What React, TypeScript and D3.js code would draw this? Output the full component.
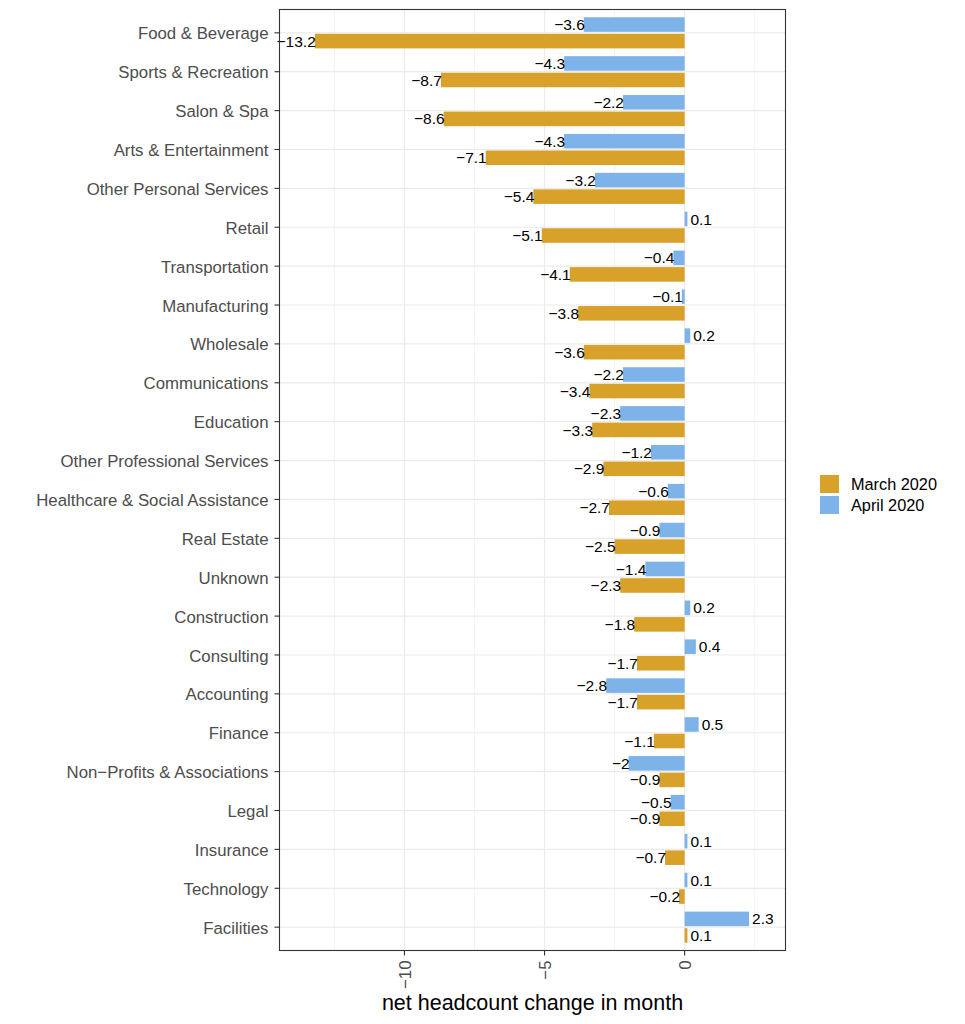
import * as d3 from 'd3';
import { useEffect } from 'react';

const categories = [
  'Food & Beverage',
  'Sports & Recreation',
  'Salon & Spa',
  'Arts & Entertainment',
  'Other Personal Services',
  'Retail',
  'Transportation',
  'Manufacturing',
  'Wholesale',
  'Communications',
  'Education',
  'Other Professional Services',
  'Healthcare & Social Assistance',
  'Real Estate',
  'Unknown',
  'Construction',
  'Consulting',
  'Accounting',
  'Finance',
  'Non\u2212Profits & Associations',
  'Legal',
  'Insurance',
  'Technology',
  'Facilities',
];

const march2020 = [
  -13.2, -8.7, -8.6, -7.1, -5.4, -5.1, -4.1, -3.8, -3.6, -3.4, -3.3, -2.9,
  -2.7, -2.5, -2.3, -1.8, -1.7, -1.7, -1.1, -0.9, -0.9, -0.7, -0.2, 0.1,
];

const april2020 = [
  -3.6, -4.3, -2.2, -4.3, -3.2, 0.1, -0.4, -0.1, 0.2, -2.2, -2.3, -1.2, -0.6,
  -0.9, -1.4, 0.2, 0.4, -2.8, 0.5, -2, -0.5, 0.1, 0.1, 2.3,
];

const seriesNames = ['April 2020', 'March 2020'];
const legendOrder = ['March 2020', 'April 2020'];
const xTicks = [-10, -5, 0];
const xMinorTicks = [-12.5, -7.5, -2.5, 2.5];

const colors: Record<string, string> = {
  'March 2020': '#D8A22A',
  'April 2020': '#7DB3E8',
};

const font = '"Liberation Sans", Arial, Helvetica, sans-serif';
const fmt = (v: number) => String(v).replace('-', '\u2212');

export default function App() {
  useEffect(() => {
    document.body.style.margin = '0';
  }, []);

  const width = 965;
  const height = 1024;
  const panel = { left: 279.5, right: 785.5, top: 9.5, bottom: 950.5 };

  const x = d3
    .scaleLinear()
    .domain([-14.46, 3.6])
    .range([panel.left, panel.right]);

  const y = d3
    .scaleBand<string>()
    .domain(categories)
    .range([panel.top, panel.bottom])
    .paddingInner(0.2)
    .paddingOuter(0.2);

  const inner = d3
    .scaleBand<string>()
    .domain(seriesNames)
    .range([0, y.bandwidth()])
    .paddingInner(0.12);

  const rows = categories.flatMap((c, i) => [
    { cat: c, series: 'April 2020', value: april2020[i] },
    { cat: c, series: 'March 2020', value: march2020[i] },
  ]);

  return (
    <svg
      width={width}
      height={height}
      style={{ position: 'absolute', left: 0, top: 0, background: '#fff' }}
      fontFamily={font}
    >
      {/* grid */}
      {xMinorTicks.map((t) => (
        <line
          key={'mx' + t}
          x1={x(t)}
          x2={x(t)}
          y1={panel.top}
          y2={panel.bottom}
          stroke="#EBEBEB"
          strokeWidth={0.6}
        />
      ))}
      {xTicks.map((t) => (
        <line
          key={'x' + t}
          x1={x(t)}
          x2={x(t)}
          y1={panel.top}
          y2={panel.bottom}
          stroke="#EBEBEB"
          strokeWidth={1.2}
        />
      ))}
      {categories.map((c) => (
        <line
          key={'y' + c}
          x1={panel.left}
          x2={panel.right}
          y1={y(c)! + y.bandwidth() / 2}
          y2={y(c)! + y.bandwidth() / 2}
          stroke="#EBEBEB"
          strokeWidth={1.2}
        />
      ))}

      {/* bars */}
      {rows.map((d) => (
        <rect
          key={d.cat + d.series}
          x={x(Math.min(0, d.value))}
          width={Math.abs(x(d.value) - x(0))}
          y={y(d.cat)! + inner(d.series)!}
          height={inner.bandwidth()}
          fill={colors[d.series]}
        />
      ))}

      {/* value labels */}
      {rows.map((d) => (
        <text
          key={'l' + d.cat + d.series}
          x={d.value < 0 ? x(d.value) + 1 : x(d.value) + 3}
          y={y(d.cat)! + inner(d.series)! + inner.bandwidth() / 2}
          dy="0.36em"
          textAnchor={d.value < 0 ? 'end' : 'start'}
          fontSize={15.5}
          fill="#000"
        >
          {fmt(d.value)}
        </text>
      ))}

      {/* panel border */}
      <rect
        x={panel.left}
        y={panel.top}
        width={panel.right - panel.left}
        height={panel.bottom - panel.top}
        fill="none"
        stroke="#333333"
        strokeWidth={1.1}
      />

      {/* y axis */}
      {categories.map((c) => {
        const cy = y(c)! + y.bandwidth() / 2;
        return (
          <g key={'ya' + c}>
            <line
              x1={panel.left - 5}
              x2={panel.left}
              y1={cy}
              y2={cy}
              stroke="#333333"
              strokeWidth={1.1}
            />
            <text
              x={panel.left - 11}
              y={cy + 0.5}
              dy="0.36em"
              textAnchor="end"
              fontSize={16.8}
              fill="#4D4D4D"
            >
              {c}
            </text>
          </g>
        );
      })}

      {/* x axis */}
      {xTicks.map((t) => (
        <g key={'xa' + t}>
          <line
            x1={x(t)}
            x2={x(t)}
            y1={panel.bottom}
            y2={panel.bottom + 5}
            stroke="#333333"
            strokeWidth={1.1}
          />
          <text
            transform={`translate(${x(t)},${panel.bottom + 10}) rotate(-90)`}
            dy="0.36em"
            textAnchor="end"
            fontSize={16.8}
            fill="#4D4D4D"
          >
            {fmt(t)}
          </text>
        </g>
      ))}
      <text
        x={(panel.left + panel.right) / 2}
        y={1010}
        textAnchor="middle"
        fontSize={21.5}
        fill="#000"
      >
        net headcount change in month
      </text>

      {/* legend */}
      {legendOrder.map((s, i) => (
        <g key={'lg' + s} transform={`translate(820,${475 + i * 21})`}>
          <rect width={19} height={18} fill={colors[s]} />
          <text x={31} y={9} dy="0.36em" fontSize={16.3} fill="#000">
            {s}
          </text>
        </g>
      ))}
    </svg>
  );
}
